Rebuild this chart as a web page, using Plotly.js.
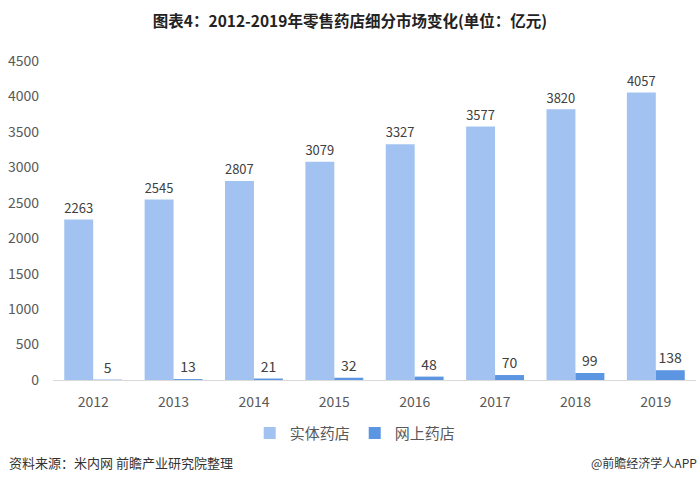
<!DOCTYPE html>
<html>
<head>
<meta charset="utf-8">
<script src="https://cdn.plot.ly/plotly-3.0.1.min.js"></script>
<style>body{margin:0;padding:0;background:#fff;}#chart{width:700px;height:484px;}</style>
</head>
<body>
<div id="chart"></div>
<script>
const years = ['2012','2013','2014','2015','2016','2017','2018','2019'];
const physicalStores = [2263, 2545, 2807, 3079, 3327, 3577, 3820, 4057];
const onlineStores = [5, 13, 21, 32, 48, 70, 99, 138];
const seriesNames = ['实体药店', '网上药店'];
const yTicks = [0, 500, 1000, 1500, 2000, 2500, 3000, 3500, 4000, 4500];

const font = '"Noto Sans CJK SC", "Noto Sans", sans-serif';
const traces = [
  {type:'bar', name:seriesNames[0], x:years, y:physicalStores, text:physicalStores.map(String),
   textposition:'outside', cliponaxis:false, textfont:{size:14,color:'#404040',family:font},
   marker:{color:'#A2C3F1'}},
  {type:'bar', name:seriesNames[1], x:years, y:onlineStores, text:onlineStores.map(String),
   textposition:'outside', cliponaxis:false, textfont:{size:14,color:'#404040',family:font},
   marker:{color:'#5C95E2'}}
];
const layout = {
  width:700, height:484,
  margin:{l:53, r:4, t:61, b:104},
  paper_bgcolor:'#fff', plot_bgcolor:'#fff',
  font:{family:font, color:'#595959'},
  title:{text:'<b>图表4：2012-2019年零售药店细分市场变化(单位：亿元)</b>', x:0.5, xanchor:'center', y:0.955, yanchor:'middle',
         font:{size:15.5, color:'#222', family:font}},
  barmode:'group', bargap:0.28, bargroupgap:0,
  xaxis:{type:'category', showline:true, linecolor:'#d9d9d9', linewidth:1, ticks:'', showgrid:false,
         tickfont:{size:14, color:'#595959'}, ticklabelstandoff:9},
  yaxis:{range:[0,4500], tickvals:yTicks, showgrid:false, zeroline:false, showline:false, ticks:'',
         tickfont:{size:14, color:'#595959'}, ticklabelstandoff:13},
  legend:{orientation:'h', x:0.47, xanchor:'center', y:-0.115, yanchor:'top', font:{size:15, color:'#595959'},
          itemwidth:20, traceorder:'normal'},
  showlegend:true,
  annotations:[
    {text:'资料来源：米内网 前瞻产业研究院整理', xref:'paper', yref:'paper', x:-0.072, y:-0.258, xanchor:'left', yanchor:'middle',
     showarrow:false, font:{size:13, color:'#333', family:font}},
    {text:'@前瞻经济学人APP', xref:'paper', yref:'paper', x:1.004, y:-0.258, xanchor:'right', yanchor:'middle',
     showarrow:false, font:{size:12, color:'#333', family:font}}
  ]
};
Plotly.newPlot('chart', traces, layout, {displayModeBar:false, staticPlot:true});
</script>
</body>
</html>
